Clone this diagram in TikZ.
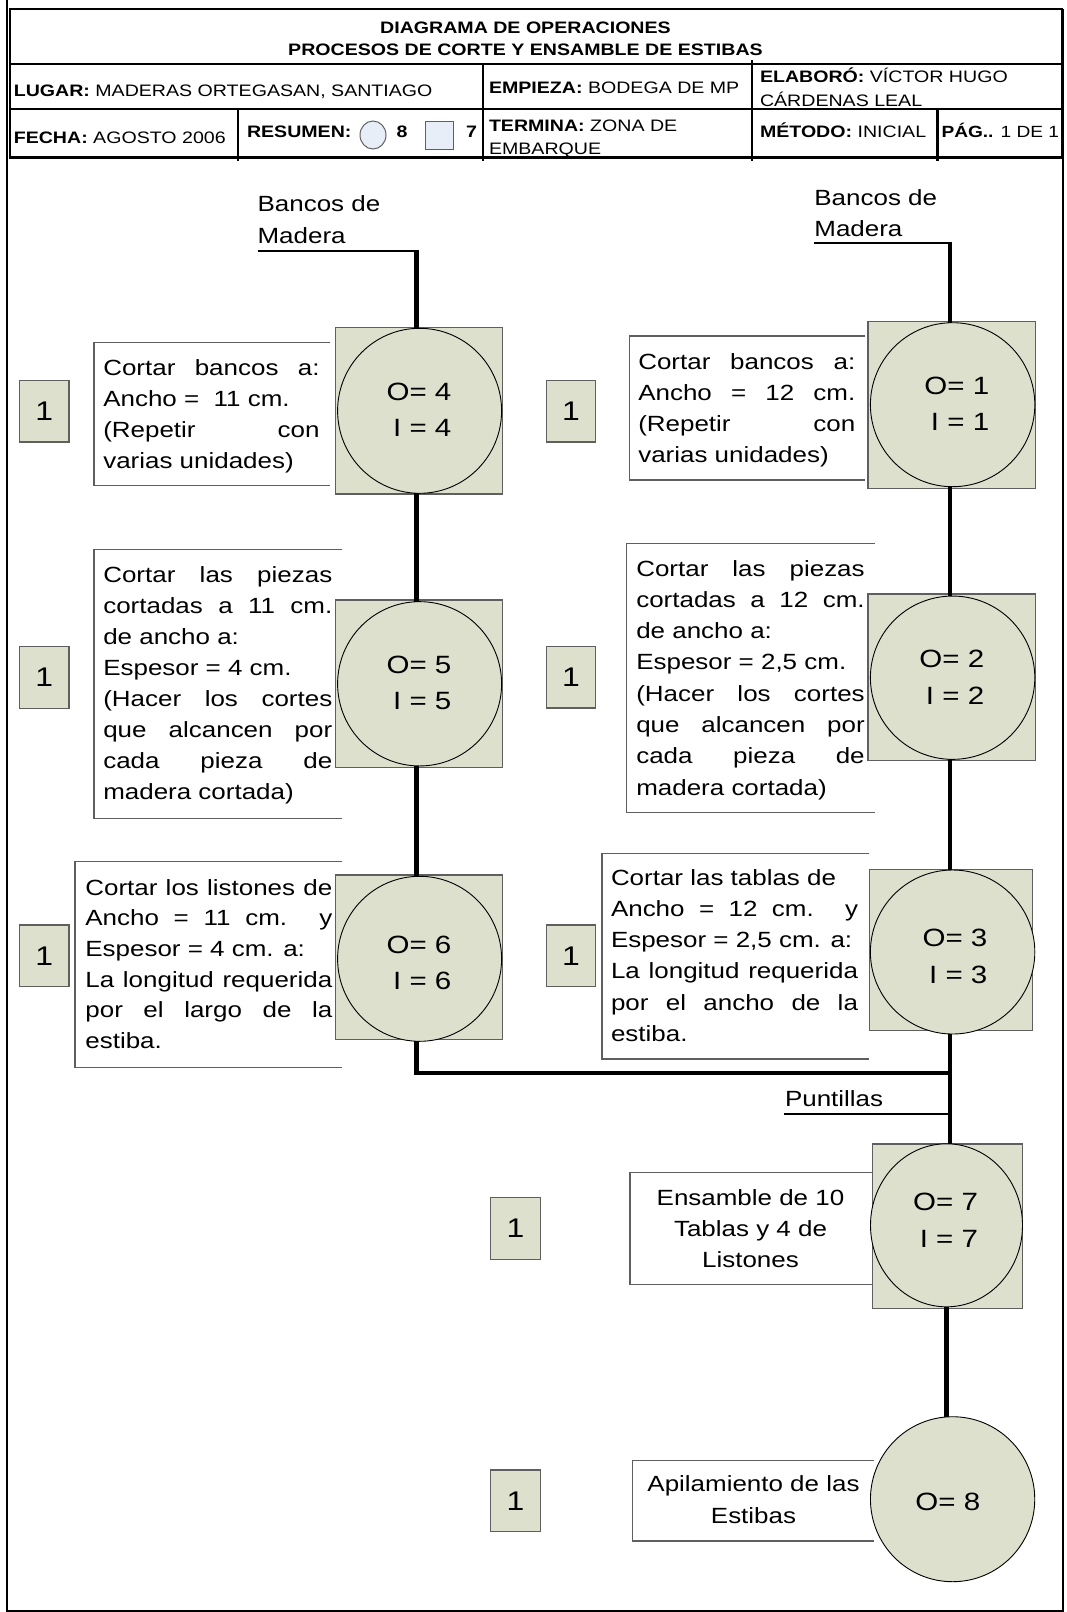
\documentclass[tikz,border=0pt]{standalone}
\usepackage{fontspec}
\setmainfont{Liberation Sans}[FakeStretch=1.18]
\usetikzlibrary{shapes.geometric}

\definecolor{sage}{RGB}{221,224,204}
\definecolor{paleblue}{RGB}{232,238,248}
\definecolor{edgegray}{RGB}{95,95,95}

% a justified line, a natural line and a centred line
\newcommand\justl[2]{\hbox to #1{#2}}
\newcommand\natl[1]{\hbox{#1}}
\newcommand\centl[2]{\hbox to #1{\hfil#2\hfil}}
% a stack of lines whose reference point is the first baseline
\newcommand\stackl[2]{\vtop{\baselineskip=#1pt\relax#2}}
% operation label: two right-aligned lines
\newcommand\oplabel[2]{\vtop{\baselineskip=36.5pt\relax\halign{\hfil##\cr O= #1\cr I = #2\cr}}}

\begin{document}
\begin{tikzpicture}[x=1pt,y=-1pt,
  every node/.style={inner sep=0pt, outer sep=0pt},
  frameline/.style={line width=1.5pt},
  hdrline/.style={line width=2.2pt},
  hdrtext/.style={font=\fontsize{16.6}{22}\selectfont},
  body/.style={font=\fontsize{22}{31}\selectfont},
  oplab/.style={font=\fontsize{25}{36}\selectfont},
  onebox/.style={draw=edgegray, line width=1.3pt, fill=sage, minimum width=49.5pt, minimum height=61.5pt,
                 font=\fontsize{27}{32}\selectfont},
  opsquare/.style={draw=edgegray, line width=1.2pt, fill=sage},
  opcircle/.style={ellipse, draw=black, line width=0.9pt, fill=sage},
  descarea/.style={rectangle},
  descline/.style={draw=edgegray, line width=1.3pt},
  flow/.style={line width=4.3pt, line join=miter},
  feed/.style={line width=2.2pt},
  sym/.style={draw=edgegray, line width=1pt, fill=paleblue}
]
\useasboundingbox (0,0) rectangle (1066,1612);

% ---------- page frame ----------
\draw[frameline] (7,0) -- (7,1611) -- (1063,1611) -- (1063,9);

% ---------- header table ----------
\draw[hdrline] (9.6,9) rectangle (1062,157.5);
\draw[hdrline] (9.6,64) -- (1062,64);
\draw[hdrline] (9.6,109) -- (1062,109);
\draw[hdrline] (483,64) -- (483,161);
\draw[hdrline] (752,60) -- (752,161);
\draw[hdrline] (238,109) -- (238,161);
\draw[hdrline] (937.5,109) -- (937.5,161);

\node[hdrtext, anchor=base] (title1) at (525.5,33.5) {\bfseries DIAGRAMA DE OPERACIONES};
\node[hdrtext, anchor=base] (title2) at (525.5,55) {\bfseries PROCESOS DE CORTE Y ENSAMBLE DE ESTIBAS};

\node[hdrtext, anchor=base west] (lugar) at (13.8,96) {\textbf{LUGAR:} MADERAS ORTEGASAN, SANTIAGO};
\node[hdrtext, anchor=base west] (empieza) at (489,93) {\textbf{EMPIEZA:} BODEGA DE MP};
\node[hdrtext, anchor=base west] (elaboro) at (760,82)
  {\stackl{24.5}{\natl{\textbf{ELABORÓ:} VÍCTOR HUGO}\natl{CÁRDENAS LEAL}}};

\node[hdrtext, anchor=base west] (fecha) at (13.8,143) {\textbf{FECHA:} AGOSTO 2006};
\node[hdrtext, anchor=base west] (resumen) at (247,137.5) {\textbf{RESUMEN:}};
\node[sym, ellipse, minimum width=26pt, minimum height=28pt] (symop) at (373,135) {};
\node[hdrtext, anchor=base] (numop) at (402,137.5) {\bfseries 8};
\node[sym, rectangle, minimum width=27.5pt, minimum height=28pt] (symin) at (439.3,135) {};
\node[hdrtext, anchor=base] (numin) at (471.5,137.5) {\bfseries 7};
\node[hdrtext, anchor=base west] (termina) at (489,131)
  {\stackl{23}{\natl{\textbf{TERMINA:} ZONA DE}\natl{EMBARQUE}}};
\node[hdrtext, anchor=base west] (metodo) at (760,137.5) {\textbf{MÉTODO:} INICIAL};
\node[hdrtext, anchor=base west, font=\fontsize{16.2}{22}\selectfont] (pag) at (941.5,137.5) {\textbf{PÁG..} 1 DE 1};

% ---------- description areas (open on the right) ----------
\node[descarea, minimum width=236pt,   minimum height=142.6pt] (d4) at (212,414) {};
\node[descarea, minimum width=235.8pt, minimum height=144pt]   (d1) at (747.5,408) {};
\node[descarea, minimum width=248pt,   minimum height=269pt]   (d5) at (218,683.8) {};
\node[descarea, minimum width=248.3pt, minimum height=269.4pt] (d2) at (750.65,678) {};
\node[descarea, minimum width=267pt,   minimum height=206pt]   (d6) at (208.5,964.7) {};
\node[descarea, minimum width=266.7pt, minimum height=205.7pt] (d3) at (735.35,956.15) {};
\node[descarea, minimum width=242.5pt, minimum height=111.6pt] (d7) at (751.25,1228.5) {};
\node[descarea, minimum width=241.6pt, minimum height=80.3pt]  (d8) at (753.6,1500.85) {};
\foreach \d in {d4,d1,d5,d2,d6,d3,d7,d8}
  \draw[descline] (\d.north east) -- (\d.north west) -- (\d.south west) -- (\d.south east);

% ---------- operation squares and circles ----------
\node[opsquare, minimum width=167.1pt, minimum height=166.3pt] (s4) at (419.25,410.85) {};
\node[opsquare, minimum width=167.1pt, minimum height=167.3pt] (s5) at (419.25,683.65) {};
\node[opsquare, minimum width=167.1pt, minimum height=164.3pt] (s6) at (419.25,957.15) {};
\node[opsquare, minimum width=167.5pt, minimum height=166.6pt] (s1) at (951.75,405) {};
\node[opsquare, minimum width=167.5pt, minimum height=166.7pt] (s2) at (951.75,677.35) {};
\node[opsquare, minimum width=163.1pt, minimum height=161.4pt] (s3) at (950.95,950) {};
\node[opsquare, minimum width=150pt,   minimum height=164.3pt] (s7) at (947.4,1226.15) {};

\node[opcircle, minimum width=164pt,   minimum height=165pt]   (c4) at (419.6,410.8) {};
\node[opcircle, minimum width=164pt,   minimum height=164.3pt] (c5) at (419.6,683.8) {};
\node[opcircle, minimum width=164pt,   minimum height=165pt]   (c6) at (419.6,958.8) {};
\node[opcircle, minimum width=164.4pt, minimum height=164pt]   (c1) at (952.6,404.7) {};
\node[opcircle, minimum width=164.4pt, minimum height=163.3pt] (c2) at (952.6,677.7) {};
\node[opcircle, minimum width=164.4pt, minimum height=164pt]   (c3) at (952.6,952) {};
\node[opcircle, minimum width=152pt,   minimum height=163pt]   (c7) at (946.5,1225.3) {};
\node[opcircle, minimum width=164.3pt, minimum height=165pt]   (c8) at (952.6,1499.2) {};

\node[oplab, anchor=base] (o4) at (419,400)     {\oplabel{4}{4}};
\node[oplab, anchor=base] (o5) at (419,673.3)   {\oplabel{5}{5}};
\node[oplab, anchor=base] (o6) at (419,953.3)   {\oplabel{6}{6}};
\node[oplab, anchor=base] (o1) at (956.8,394)   {\oplabel{1}{1}};
\node[oplab, anchor=base] (o2) at (951.8,667.7) {\oplabel{2}{2}};
\node[oplab, anchor=base] (o3) at (955,946.7)   {\oplabel{3}{3}};
\node[oplab, anchor=base] (o7) at (945.6,1210.7){\oplabel{7}{7}};
\node[oplab, anchor=base] (o8) at (947.8,1510)  {O= 8};

% ---------- count boxes ----------
\node[onebox] (n4) at (44.25,411.2) {1};
\node[onebox] (n5) at (44.25,677.5) {1};
\node[onebox] (n6) at (44.3,955.85) {1};
\node[onebox] (n1) at (571,411.35) {1};
\node[onebox] (n2) at (571,677.15) {1};
\node[onebox] (n3) at (571,955.85) {1};
\node[onebox] (n7) at (515.5,1228.5) {1};
\node[onebox] (n8) at (515.5,1500.85) {1};

% ---------- description texts ----------
\node[body, anchor=base west] (t4) at (103.3,375) {\stackl{31}{%
  \justl{216.3pt}{Cortar bancos a:}%
  \natl{Ancho = \ 11 cm.}%
  \justl{216.3pt}{(Repetir con}%
  \natl{varias unidades)}}};
\node[body, anchor=base west] (t1) at (638.3,369) {\stackl{31}{%
  \justl{217pt}{Cortar bancos a:}%
  \justl{217pt}{Ancho = 12 cm.}%
  \justl{217pt}{(Repetir con}%
  \natl{varias unidades)}}};
\node[body, anchor=base west] (t5) at (103.3,582.7) {\stackl{31.04}{%
  \justl{229pt}{Cortar las piezas}%
  \justl{229pt}{cortadas a 11 cm.}%
  \natl{de ancho a:}%
  \natl{Espesor = 4 cm.}%
  \justl{229pt}{(Hacer los cortes}%
  \justl{229pt}{que alcancen por}%
  \justl{229pt}{cada pieza de}%
  \natl{madera cortada)}}};
\node[body, anchor=base west] (t2) at (636.3,576) {\stackl{31.3}{%
  \justl{228.4pt}{Cortar las piezas}%
  \justl{228.4pt}{cortadas a 12 cm.}%
  \natl{de ancho a:}%
  \natl{Espesor = 2,5 cm.}%
  \justl{228.4pt}{(Hacer los cortes}%
  \justl{228.4pt}{que alcancen por}%
  \justl{228.4pt}{cada pieza de}%
  \natl{madera cortada)}}};
\node[body, anchor=base west] (t6) at (85.4,895) {\stackl{30.7}{%
  \justl{246.9pt}{Cortar los listones de}%
  \justl{246.9pt}{Ancho = 11 cm. y}%
  \natl{Espesor = 4 cm. a:}%
  \justl{246.9pt}{La longitud requerida}%
  \justl{246.9pt}{por el largo de la}%
  \natl{estiba.}}};
\node[body, anchor=base west] (t3) at (611,885) {\stackl{31.3}{%
  \natl{Cortar las tablas de}%
  \justl{247pt}{Ancho = 12 cm. y}%
  \natl{Espesor = 2,5 cm. a:}%
  \justl{247pt}{La longitud requerida}%
  \justl{247pt}{por el ancho de la}%
  \natl{estiba.}}};
\node[body, anchor=base] (t7) at (750.5,1205) {\stackl{31.2}{%
  \centl{230pt}{Ensamble de 10}%
  \centl{230pt}{Tablas y 4 de}%
  \centl{230pt}{Listones}}};
\node[body, anchor=base] (t8) at (753.5,1491.7) {\stackl{31.6}{%
  \centl{230pt}{Apilamiento de las}%
  \centl{230pt}{Estibas}}};

% ---------- inputs ----------
\node[body, anchor=base west] (inL) at (257.6,211.7) {\stackl{31.6}{\natl{Bancos de}\natl{Madera}}};
\node[body, anchor=base west] (inR) at (814.4,205) {\stackl{31.6}{\natl{Bancos de}\natl{Madera}}};
\node[body, anchor=base west] (inP) at (785,1106) {Puntillas};

% ---------- flow lines ----------
\coordinate (L) at (416.5,0);
\coordinate (R) at (950,0);
\coordinate (bl) at (257.6,251);
\coordinate (br) at (814.4,243.3);
\coordinate (pu) at (783.7,1114);
\coordinate (J) at (950,1073.3);

\draw[feed] (bl) -- (bl -| L);
\draw[flow] ([yshift=1.1pt]bl -| L) -- (c4.north -| L);
\draw[flow] (c4.south -| L) -- (c5.north -| L);
\draw[flow] (c5.south -| L) -- (c6.north -| L);
\draw[flow] (c6.south -| L) |- (J);

\draw[feed] (br) -- (br -| R);
\draw[flow] ([yshift=1.1pt]br -| R) -- (c1.north -| R);
\draw[flow] (c1.south -| R) -- (c2.north -| R);
\draw[flow] (c2.south -| R) -- (c3.north -| R);
\draw[flow] (c3.south -| R) -- (c7.north -| R);
\draw[feed] (pu) -- (pu -| R);
\draw[flow] (c7.south) -- (c7.south |- c8.north);
\end{tikzpicture}
\end{document}
